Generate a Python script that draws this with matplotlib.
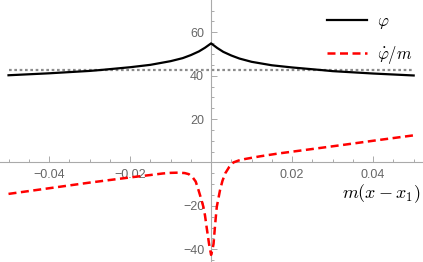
import matplotlib
matplotlib.use("Agg")
import matplotlib.pyplot as plt
from matplotlib.ticker import MultipleLocator, FuncFormatter

# values
phi_x = [-0.05, -0.04, -0.03, -0.0274, -0.02, -0.015, -0.01, -0.007, -0.005, -0.003, -0.0015, 0.0,
         0.0015, 0.003, 0.005, 0.007, 0.01, 0.015, 0.02, 0.0272, 0.03, 0.04, 0.05]
phi_y = [40.2, 41.1, 42.2, 42.6, 43.9, 45.0, 46.7, 48.1, 49.5, 51.2, 52.9, 54.9,
         52.8, 51.0, 49.3, 47.9, 46.4, 44.8, 43.8, 42.6, 42.1, 41.0, 40.1]

dphi_x = [-0.05, -0.045, -0.04, -0.035, -0.03, -0.025, -0.02, -0.015, -0.012, -0.01, -0.008,
          -0.0065, -0.0055, -0.0045, -0.0038, -0.0031, -0.0025, -0.0019, -0.0015, -0.0011,
          -0.0005, 0.0, 0.0003, 0.0006, 0.001, 0.0014, 0.0022, 0.0028, 0.0035, 0.0045,
          0.0055, 0.0068, 0.0084, 0.012, 0.0165, 0.025, 0.033, 0.04, 0.05]
dphi_y = [-14.5, -13.2, -11.9, -10.6, -9.3, -8.1, -6.9, -5.8, -5.1, -4.8, -4.7,
          -4.9, -5.4, -7.0, -8.8, -12.8, -16.5, -20.5, -24.5, -29.9,
          -37.6, -42.6, -40.5, -37.6, -28.5, -20.5, -12.8, -8.5, -5.0, -2.0,
          0.0, 0.9, 1.6, 2.8, 4.1, 6.2, 8.2, 10.0, 12.5]

ref_level = 42.6
x_range = [-0.05, 0.05]

plt.rcParams['mathtext.fontset'] = 'cm'

fig = plt.figure(figsize=(4.23, 2.62), dpi=100)
ax = fig.add_axes([0, 0, 1, 1])

ax.plot(x_range, [ref_level, ref_level], color='#8c8c8c', lw=1.6, linestyle=(0, (1.2, 1.2)), zorder=1)
ax.plot(phi_x, phi_y, color='black', lw=1.6, label=r'$\varphi$', zorder=3)
ax.plot(dphi_x, dphi_y, color='red', lw=1.8, linestyle=(0, (3.2, 1.8)), label=r'$\dot{\varphi}/m$', zorder=3)

ax.set_xlim(-0.0521, 0.0523)
ax.set_ylim(-45.9, 74.9)

# axes through the origin, Mathematica style
for s in ['top', 'right']:
    ax.spines[s].set_visible(False)
ax.spines['left'].set_position(('data', 0))
ax.spines['bottom'].set_position(('data', 0))
for s in ['left', 'bottom']:
    ax.spines[s].set_color('#aaaaaa')
    ax.spines[s].set_linewidth(0.8)

ax.xaxis.set_major_locator(MultipleLocator(0.02))
ax.xaxis.set_minor_locator(MultipleLocator(0.005))
ax.yaxis.set_major_locator(MultipleLocator(20))
ax.yaxis.set_minor_locator(MultipleLocator(5))

def fmt_x(v, pos):
    if abs(v) < 1e-9:
        return ''
    return f'{v:.2f}'.replace('-', '\u2212')

def fmt_y(v, pos):
    if abs(v) < 1e-9:
        return ''
    return f'{v:.0f}'.replace('-', '\u2212')

ax.xaxis.set_major_formatter(FuncFormatter(fmt_x))
ax.yaxis.set_major_formatter(FuncFormatter(fmt_y))

ax.tick_params(which='both', direction='in', color='#aaaaaa', width=0.7,
               labelcolor='#666666', labelsize=9)
ax.tick_params(which='major', length=4, pad=5)
ax.tick_params(which='minor', length=2.3)
for lab in ax.get_xticklabels() + ax.get_yticklabels():
    lab.set_family('Liberation Sans')

ax.text(0.995, 0.262, r'$m(x-x_1)$', transform=ax.transAxes, ha='right', va='center', fontsize=13)

ax.legend(loc='upper left', bbox_to_anchor=(0.773, 0.955), frameon=False, fontsize=12,
          handlelength=2.4, handletextpad=0.6, labelspacing=0.8,
          borderpad=0, borderaxespad=0)

fig.savefig('out.png', dpi=100)
